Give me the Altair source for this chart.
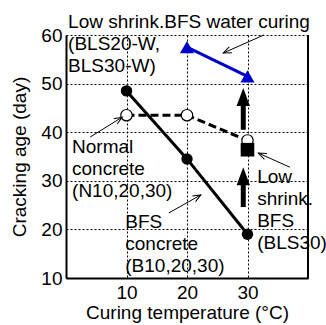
import math
import altair as alt
import pandas as pd

# ---- data ----
temps = [10, 20, 30]
bfs_age = [48.5, 34.5, 19.0]          # BFS concrete (B10,20,30)
normal_age = [43.5, 43.5, 38.3]       # Normal concrete (N10,20,30)
bls30_temp = [30]
bls30_age = [36.4]                    # Low shrink. BFS (BLS30)
blsw_temps = [20, 30]
blsw_age = [57.5, 51.5]               # Low shrink. BFS water curing

x_ticks = [10, 20, 30]
y_ticks = [10, 20, 30, 40, 50, 60]

# annotation labels (data coordinates)
label_text = [
    "Low shrink.BFS water curing",
    "(BLS20-W,\nBLS30-W)",
    "Normal\nconcrete\n(N10,20,30)",
    "BFS\nconcrete\n(B10,20,30)",
    "Low\nshrink.\nBFS\n(BLS30)",
]
label_t = [0.35, 0.35, 1.0, 9.8, 31.6]
label_v = [61.5, 56.9, 35.7, 20.3, 29.5]

# thin annotation arrows: start -> tip
thin_t = [32.7, 4.0, 37.0, 17.0]
thin_v = [60.0, 39.0, 32.8, 23.4]
thin_t2 = [26.0, 9.3, 31.8, 22.3]
thin_v2 = [56.3, 43.1, 35.7, 27.1]

# thick arrows: base -> tip
thick_t = [29.3, 29.3]
thick_v = [40.5, 24.6]
thick_v2 = [49.1, 32.8]

W, H = 242, 243
XD, YD = [0, 40], [10, 60]
PX = W / (XD[1] - XD[0])
PY = H / (YD[1] - YD[0])

FONT = "Liberation Sans"
FS = 19

xs = alt.Scale(domain=XD, nice=False, zero=False)
ys = alt.Scale(domain=YD, nice=False, zero=False)
X = alt.X("t:Q", scale=xs, axis=alt.Axis(values=x_ticks, title="Curing temperature (°C)",
                                         labelPadding=5, titlePadding=1))
Y = alt.Y("v:Q", scale=ys, axis=alt.Axis(values=y_ticks, title="Cracking age (day)",
                                         labelPadding=4, titlePadding=11))

bfs_df = pd.DataFrame({"t": temps, "v": bfs_age})
nor_df = pd.DataFrame({"t": temps, "v": normal_age})
bls_df = pd.DataFrame({"t": bls30_temp, "v": bls30_age})
blw_df = pd.DataFrame({"t": blsw_temps, "v": blsw_age})

bfs_line = alt.Chart(bfs_df).mark_line(color="black", strokeWidth=3).encode(x=X, y=Y)
bfs_pts = alt.Chart(bfs_df).mark_point(shape="circle", filled=True, color="black",
                                       size=130, opacity=1).encode(x=X, y=Y)
nor_line = alt.Chart(nor_df).mark_line(color="black", strokeWidth=3,
                                       strokeDash=[8, 4]).encode(x=X, y=Y)
nor_pts = alt.Chart(nor_df).mark_point(shape="circle", filled=True, fill="white",
                                       stroke="black", strokeWidth=1.2, size=130,
                                       opacity=1).encode(x=X, y=Y)
bls_pts = alt.Chart(bls_df).mark_point(shape="square", filled=True, color="black",
                                       size=185, opacity=1).encode(x=X, y=Y)
blw_line = alt.Chart(blw_df).mark_line(color="#0000cc", strokeWidth=3).encode(x=X, y=Y)
blw_pts = alt.Chart(blw_df).mark_point(shape="triangle-up", filled=True, color="#0000cc",
                                       size=200, opacity=1).encode(x=X, y=Y)

# right frame edge
frame_df = pd.DataFrame({"t": [XD[1]], "v": [YD[0]], "v2": [YD[1]]})
frame = alt.Chart(frame_df).mark_rule(color="black", strokeWidth=2).encode(
    x=X, y=Y, y2="v2:Q")

# thin arrows
ang = []
for a, b, c, d in zip(thin_t, thin_v, thin_t2, thin_v2):
    dx = (c - a) * PX
    dy = -(d - b) * PY
    ang.append(math.degrees(math.atan2(dx, -dy)) % 360)
thin_df = pd.DataFrame({"t": thin_t, "v": thin_v, "t2": thin_t2, "v2": thin_v2, "a": ang})
thin_rule = alt.Chart(thin_df).mark_rule(color="black", strokeWidth=1).encode(
    x=X, y=Y, x2="t2:Q", y2="v2:Q")
thin_head = alt.Chart(thin_df).mark_point(
    shape="M-0.4,1L0,0L0.4,1", filled=False, stroke="black", strokeWidth=1,
    size=256, opacity=1).encode(
    x=alt.X("t2:Q", scale=xs), y=alt.Y("v2:Q", scale=ys),
    angle=alt.Angle("a:Q", scale=None))

# thick arrows
thick_df = pd.DataFrame({"t": thick_t, "v": thick_v, "v2": thick_v2,
                         "vs": [b - 15 / PY for b in thick_v2]})
thick_rule = alt.Chart(thick_df).mark_rule(color="black", strokeWidth=5, strokeCap="butt").encode(
    x=X, y=Y, y2="vs:Q")
thick_head = alt.Chart(thick_df).mark_point(
    shape="M0,0L-0.37,1L0.37,1Z", filled=True, color="black", size=1296, opacity=1).encode(
    x=X, y=alt.Y("v2:Q", scale=ys))

lab_df = pd.DataFrame({"t": label_t, "v": label_v, "txt": label_text})
labels = alt.Chart(lab_df).mark_text(align="left", baseline="alphabetic", fontSize=FS,
                                     font=FONT, lineHeight=22, lineBreak="\n",
                                     color="black").encode(x=X, y=Y, text="txt:N")

chart = alt.layer(
    frame, bfs_line, nor_line, blw_line, bfs_pts, nor_pts, bls_pts, blw_pts,
    thin_rule, thin_head, thick_rule, thick_head, labels
).properties(
    width=W, height=H,
    autosize=alt.AutoSizeParams(type="none"),
    padding={"left": 66, "top": 35, "right": 18, "bottom": 47},
).configure_view(stroke=None).configure_axis(
    domainColor="black", domainWidth=2, ticks=False, grid=True, gridColor="black",
    gridDash=[2, 2], gridWidth=1, gridOpacity=1, labelFontSize=FS, titleFontSize=FS,
    labelFont=FONT, titleFont=FONT, titleFontWeight="normal", labelColor="black",
    titleColor="black",
)

chart.save("out.html", embed_options={"renderer": "svg", "actions": False})
